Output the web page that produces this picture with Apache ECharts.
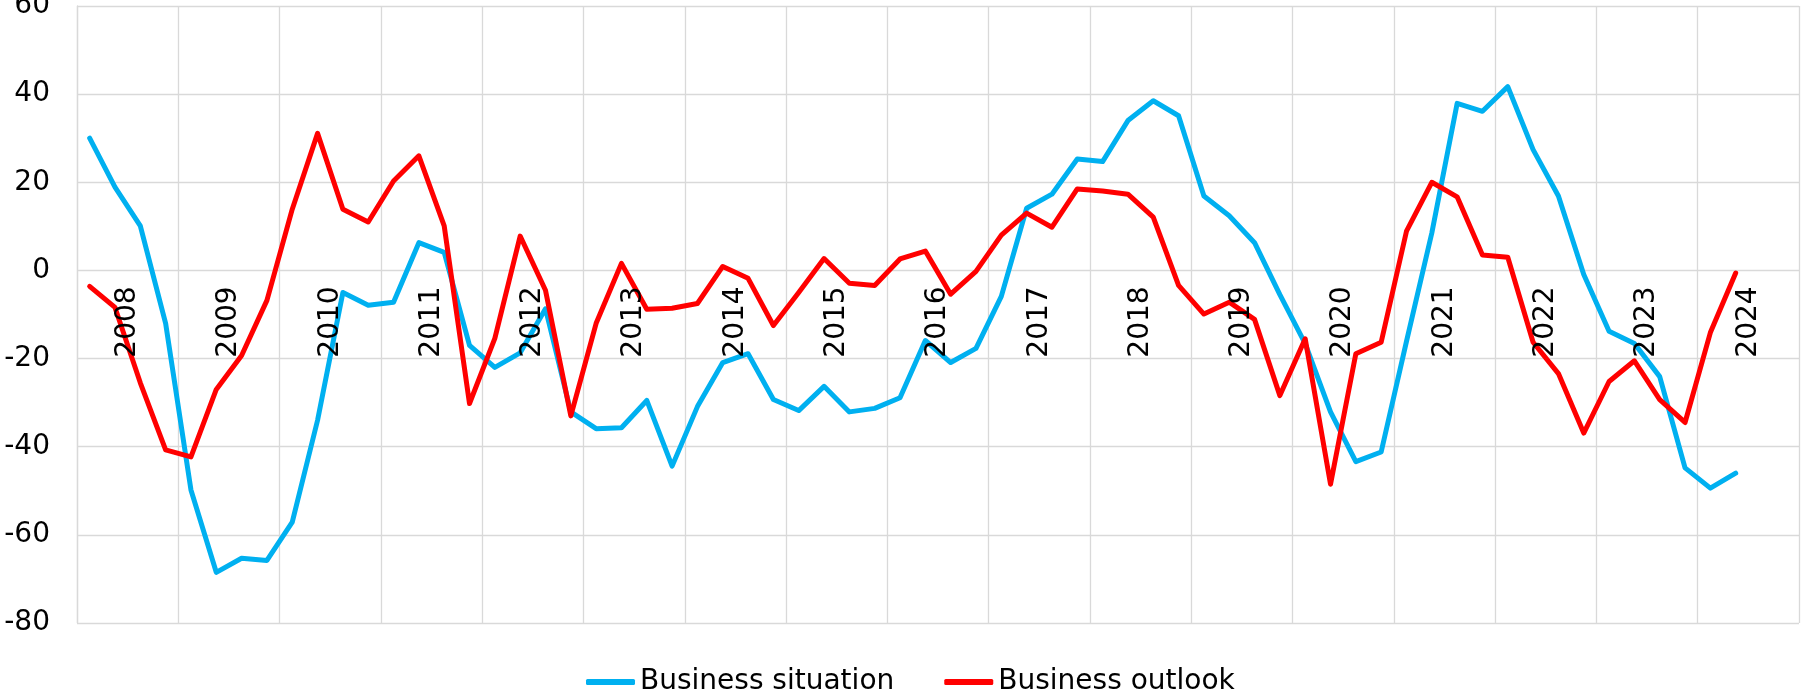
<!DOCTYPE html>
<html>
<head>
<meta charset="utf-8">
<title>Business situation and outlook</title>
<script src="https://cdn.jsdelivr.net/npm/echarts@6/dist/echarts.min.js"></script>
<style>
    html, body { margin: 0; padding: 0; background: #fff; }
    #chart { width: 1802px; height: 692px; }
</style>
</head>
<body>
<div id="chart"></div>
<script>
// year labels on the axis, the data is quarterly (2008Q1 .. 2024Q2)
const years = ['2008', '2009', '2010', '2011', '2012', '2013', '2014', '2015', '2016',
    '2017', '2018', '2019', '2020', '2021', '2022', '2023', '2024'];
const quarters = [];
years.forEach(y => {
    ['Q1', 'Q2', 'Q3', 'Q4'].forEach(q => quarters.push(y + q));
});

const yTicks = { min: -80, max: 60, step: 20 };

const situation = [
    30, 18.9, 10.1, -12.0,
    -49.8, -68.5, -65.3, -65.8,
    -57.1, -34, -5.0, -7.9,
    -7.2, 6.3, 4.1, -17.0,
    -22.0, -18.7, -8.7, -32.1,
    -35.9, -35.7, -29.5, -44.4,
    -30.9, -20.9, -18.9, -29.3,
    -31.8, -26.3, -32.1, -31.3,
    -28.9, -15.9, -20.9, -17.7,
    -5.9, 14.1, 17.3, 25.3,
    24.7, 34.0, 38.5, 35.1,
    16.9, 12.4, 6.3, -5.5,
    -16.6, -32.1, -43.4, -41.2,
    -16.1, 8.5, 37.9, 36.1,
    41.7, 27.4, 16.9, -0.9,
    -13.8, -16.6, -24.1, -44.8,
    -49.4, -46.0
];

const outlook = [
    -3.6, -8.4, -25.5, -40.7,
    -42.3, -27.0, -19.3, -6.8,
    13.9, 31.1, 13.9, 11.0,
    20.3, 26.0, 10.1, -30.2,
    -15.4, 7.8, -4.5, -33.0,
    -12.0, 1.6, -8.8, -8.6,
    -7.5, 0.9, -1.8, -12.5,
    -5.0, 2.7, -2.9, -3.4,
    2.6, 4.4, -5.4, -0.2,
    8.0, 13.0, 9.8, 18.5,
    18.0, 17.3, 12.1, -3.4,
    -9.9, -7.2, -11.1, -28.4,
    -15.5, -48.5, -18.9, -16.3,
    8.9, 20.0, 16.7, 3.5,
    3.0, -16.3, -23.4, -36.9,
    -25.2, -20.5, -29.3, -34.5,
    -14.1, -0.6
];

const gridColor = '#d9d9d9';
const font = 'DejaVu Sans';

// plot area
const gridTop = 6, gridBottom = 69, plotH = 692 - gridTop - gridBottom;
// distance from the bottom of the plot up to the zero line
const zeroOffset = plotH * (0 - yTicks.min) / (yTicks.max - yTicks.min);

let chart = echarts.init(document.getElementById('chart'));

chart.setOption({
    backgroundColor: '#fff',
    animation: false,
    textStyle: { fontFamily: font },
    grid: {
        left: 77, right: 3, top: gridTop, bottom: gridBottom,
        containLabel: false,
        outerBoundsMode: 'none'
    },
    legend: {
        left: 581,
        top: 663,
        icon: 'roundRect',
        itemWidth: 49,
        itemHeight: 6,
        itemGap: 50,
        textStyle: { fontFamily: font, fontSize: 28, color: '#000' },
        data: ['Business situation', 'Business outlook']
    },
    xAxis: [
        {
            // quarterly axis carrying the data
            type: 'category',
            data: quarters,
            boundaryGap: true,
            show: false,
            axisLine: { onZero: false }
        },
        {
            // year boundaries -> vertical grid lines
            type: 'category',
            data: years,
            boundaryGap: true,
            position: 'bottom',
            axisLine: { show: false, onZero: false },
            axisTick: { show: false },
            axisLabel: { show: false },
            splitLine: { show: true, lineStyle: { color: gridColor, width: 1.3 } }
        },
        {
            // year labels hanging under the zero line, drawn over the lines
            type: 'category',
            data: years,
            boundaryGap: true,
            position: 'bottom',
            offset: -zeroOffset,
            z: 10,
            axisLine: { show: false, onZero: false },
            axisTick: { show: false },
            splitLine: { show: false },
            axisLabel: {
                interval: 0,
                rotate: 90,
                margin: 16,
                padding: [0, 0, 18, 0],
                fontFamily: font,
                fontSize: 28,
                color: '#000'
            }
        }
    ],
    yAxis: {
        type: 'value',
        min: yTicks.min,
        max: yTicks.max,
        interval: yTicks.step,
        axisLine: { show: true, lineStyle: { color: gridColor, width: 1.3 } },
        axisTick: { show: false },
        axisLabel: { fontFamily: font, fontSize: 28, color: '#000', margin: 27 },
        splitLine: { show: true, lineStyle: { color: gridColor, width: 1.3 } }
    },
    series: [
        {
            name: 'Business situation',
            type: 'line',
            data: situation,
            symbol: 'none',
            itemStyle: { color: '#00b0f0' },
            lineStyle: { color: '#00b0f0', width: 5, cap: 'round', join: 'round' }
        },
        {
            name: 'Business outlook',
            type: 'line',
            data: outlook,
            symbol: 'none',
            itemStyle: { color: '#ff0000' },
            lineStyle: { color: '#ff0000', width: 5, cap: 'round', join: 'round' }
        }
    ]
});
</script>
</body>
</html>
